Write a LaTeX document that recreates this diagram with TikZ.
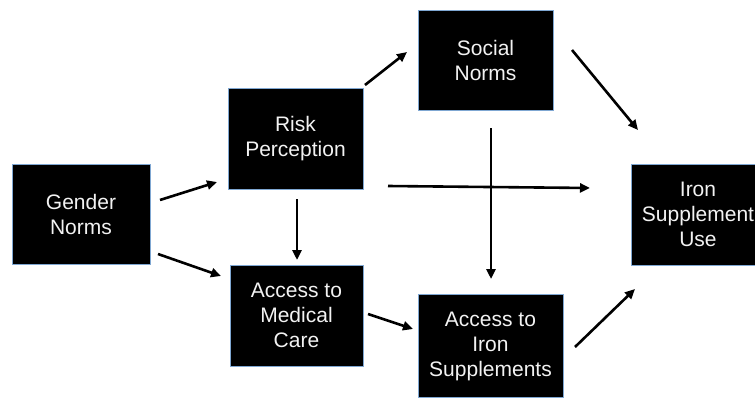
\documentclass[tikz,border=0pt]{standalone}
\usepackage{fontspec}
\setmainfont{Liberation Sans}
\usetikzlibrary{arrows.meta}
\definecolor{boxedge}{HTML}{7FA7D2}
\definecolor{boxtext}{HTML}{F2F2F2}
\tikzset{
  box/.style={draw=boxedge, line width=0.9pt, fill=black, text=boxtext, align=center,
    inner sep=0pt, font=\fontsize{21}{25}\selectfont},
  arr/.style={line width=2.6pt, -{Triangle[length=10pt,width=9pt]}}
}
\begin{document}
\begin{tikzpicture}[x=1pt,y=-1pt]
\useasboundingbox (0,0) rectangle (755,397);
\clip (0,0) rectangle (755,397);
\node[box, minimum width=138pt, minimum height=100pt] (g) at (81,214) {Gender\\Norms};
\node[box, minimum width=135pt, minimum height=101pt] (r) at (295.5,138.5) {Risk\\Perception};
\node[box, minimum width=135pt, minimum height=100pt] (s) at (485.5,60) {Social\\Norms};
\node[box, minimum width=134pt, minimum height=101pt] (u) at (698,214.5) {Iron\\Supplement\\Use};
\node[box, minimum width=133pt, minimum height=101pt] (m) at (296.5,315.5) {Access to\\Medical\\Care};
\node[box, minimum width=145pt, minimum height=103pt] (a) at (490.5,346) {Access to\\Iron\\Supplements};
\draw[arr] ([shift={(79,-14)}]g.center) -- ([shift={(-78.5,43.5)}]r.center);
\draw[arr] ([shift={(77,40)}]g.center) -- ([shift={(-75.5,-39.5)}]m.center);
\draw[arr] ([shift={(1.5,60.5)}]r.center) -- ([shift={(0.5,-55.5)}]m.center);
\draw[arr] ([shift={(69.5,-53.5)}]r.center) -- ([shift={(-78.5,-8)}]s.center);
\draw[arr] ([shift={(92.5,47.5)}]r.center) -- ([shift={(-108,-26.5)}]u.center);
\draw[arr] ([shift={(5.5,68)}]s.center) -- ([shift={(0.5,-67)}]a.center);
\draw[arr] ([shift={(86.5,-10)}]s.center) -- ([shift={(-60,-84.5)}]u.center);
\draw[arr] ([shift={(71.5,-1.5)}]m.center) -- ([shift={(-77.5,-17)}]a.center);
\draw[arr] ([shift={(84.5,1)}]a.center) -- ([shift={(-63,74.5)}]u.center);
\end{tikzpicture}
\end{document}
